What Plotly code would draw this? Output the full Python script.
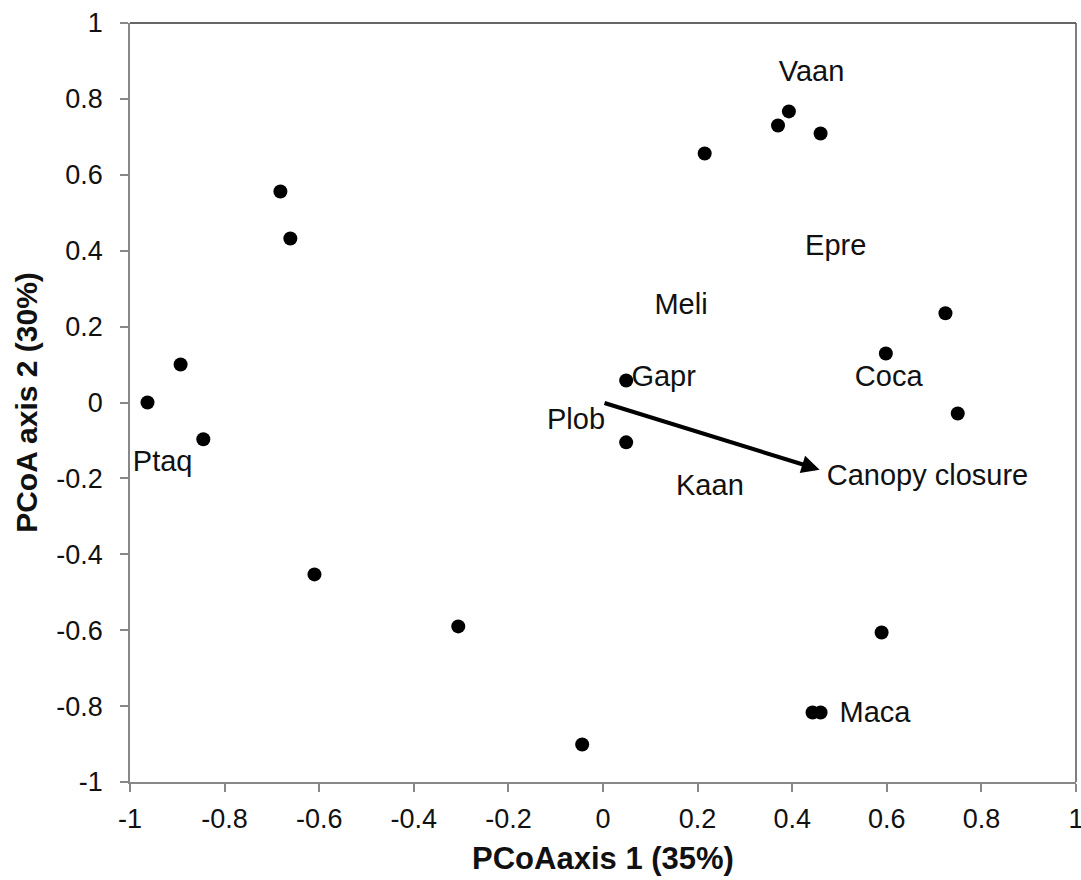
import plotly.graph_objects as go

# Site scores (PCoA axis 1, axis 2)
pt_x = [-0.963, -0.893, -0.845, -0.682, -0.661, -0.610, -0.306, -0.044,
        0.049, 0.049, 0.215, 0.370, 0.393, 0.460, 0.598, 0.724, 0.750,
        0.589, 0.443, 0.460]
pt_y = [0.000, 0.100, -0.097, 0.556, 0.432, -0.453, -0.590, -0.901,
        0.058, -0.105, 0.656, 0.730, 0.767, 0.709, 0.129, 0.235, -0.029,
        -0.606, -0.817, -0.817]

# Species labels
sp_names = ["Vaan", "Epre", "Meli", "Coca", "Plob", "Kaan", "Ptaq", "Maca"]
sp_x = [0.441, 0.492, 0.165, 0.604, -0.057, 0.226, -0.931, 0.575]
sp_y = [0.865, 0.408, 0.253, 0.063, -0.050, -0.224, -0.161, -0.822]

# Left-anchored labels
la_names = ["Gapr", "Canopy closure"]
la_x = [0.060, 0.473]
la_y = [0.063, -0.198]

# Environmental vector
vec_x = [0.0, 0.458]
vec_y = [0.0, -0.177]

ticks = [-1, -0.8, -0.6, -0.4, -0.2, 0, 0.2, 0.4, 0.6, 0.8, 1]
tick_text = ["-1", "-0.8", "-0.6", "-0.4", "-0.2", "0", "0.2", "0.4", "0.6", "0.8", "1"]

FONT = "Liberation Sans, Arial, sans-serif"
TXT = "#111111"

fig = go.Figure()
fig.add_trace(go.Scatter(x=pt_x, y=pt_y, mode="markers",
                         marker=dict(color="black", size=14),
                         showlegend=False, hoverinfo="skip"))
fig.add_trace(go.Scatter(x=sp_x, y=sp_y, mode="text", text=sp_names,
                         textposition="middle center",
                         textfont=dict(family=FONT, size=29, color=TXT),
                         showlegend=False, hoverinfo="skip"))
fig.add_trace(go.Scatter(x=la_x, y=la_y, mode="text", text=la_names,
                         textposition="middle right",
                         textfont=dict(family=FONT, size=29, color=TXT),
                         showlegend=False, hoverinfo="skip"))

fig.add_annotation(x=vec_x[1], y=vec_y[1], ax=vec_x[0], ay=vec_y[0],
                   xref="x", yref="y", axref="x", ayref="y",
                   showarrow=True, arrowhead=2, arrowsize=0.9, arrowwidth=4,
                   arrowcolor="black", text="")

axis_common = dict(range=[-1, 1], tickvals=ticks, ticktext=tick_text,
                   showgrid=False, zeroline=False, showline=True,
                   linecolor="#888888", linewidth=1.5, ticks="outside",
                   ticklen=8, tickcolor="#888888", tickwidth=1.5,
                   automargin=False, ticklabeloverflow="allow",
                   tickfont=dict(family=FONT, size=27, color=TXT))

fig.update_xaxes(**axis_common, ticklabelstandoff=4,
                 title=dict(text="<b>PCoAaxis 1 (35%)</b>", standoff=14,
                            font=dict(family=FONT, size=31, color=TXT)))
fig.update_yaxes(**axis_common, ticklabelstandoff=12,
                 title=dict(text="<b>PCoA axis 2 (30%)</b>", standoff=10,
                            font=dict(family=FONT, size=30, color=TXT)))

# top and right frame lines
fig.add_shape(type="line", xref="paper", yref="paper", x0=0, x1=1, y0=1, y1=1,
              line=dict(color="#333333", width=1.5))
fig.add_shape(type="line", xref="paper", yref="paper", x0=1, x1=1, y0=0, y1=1,
              line=dict(color="#555555", width=1.5))

fig.update_layout(width=1081, height=880,
                  margin=dict(l=130, r=5, t=23, b=98),
                  plot_bgcolor="white", paper_bgcolor="white",
                  font=dict(family=FONT))

fig.write_html("out.html",
               config={"displayModeBar": False},
               post_script="document.body.style.margin='0';"
                           "document.body.style.overflow='hidden';")
